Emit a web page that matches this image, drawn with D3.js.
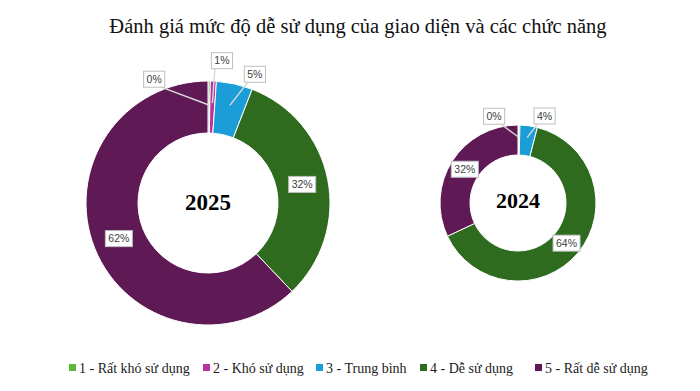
<!DOCTYPE html>
<html><head><meta charset="utf-8">
<script src="https://cdn.jsdelivr.net/npm/d3@7"></script>
<style>html,body{margin:0;padding:0;background:#fff;}svg{display:block;}</style>
</head><body>
<svg id="chart" width="700" height="391"></svg>
<script>
const categories = ["1 - Rất khó sử dụng", "2 - Khó sử dụng", "3 - Trung bình", "4 - Dễ sử dụng", "5 - Rất dễ sử dụng"];
const colors = ["#5cb83b", "#b9339f", "#1b9dd8", "#2f6b1f", "#5f1a55"];
const years = ["2025", "2024"];
const values2025 = [0.3, 0.8, 4.8, 32.0, 62.1];
const values2024 = [0.2, 0.2, 3.6, 64.0, 32.0];
const labels2025 = ["0%", "1%", "5%", "32%", "62%"];
const labels2024 = ["0%", "0%", "4%", "64%", "32%"];
const title = "Đánh giá mức độ dễ sử dụng của giao diện và các chức năng";

const svg = d3.select("#chart");
const color = d3.scaleOrdinal().domain(categories).range(colors);

svg.append("text").attr("x", 358).attr("y", 33).attr("text-anchor", "middle")
  .attr("font-family", "Liberation Serif, Times New Roman, serif").attr("font-size", 20.5)
  .attr("fill", "#111").text(title);

// layout (positions only, not data)
const layouts = [
  {cx: 208, cy: 203, ro: 122, ri: 70, yearSize: 23, yearDy: 7,
   ext: {0: {ang: -23.5, dist: 135, lineR: 98}, 1: {ang: 5.6, dist: 143, lineR: 100}, 2: {ang: 20, dist: 137, lineR: 100}}},
  {cx: 518, cy: 203, ro: 78, ri: 48, yearSize: 22, yearDy: 5,
   ext: {0: {ang: -15.4, dist: 90, lineR: 66}, 2: {ang: 17, dist: 91, lineR: 66}}}
];
const dataSets = [
  {year: years[0], values: values2025, labels: labels2025},
  {year: years[1], values: values2024, labels: labels2024}
];

const pie = d3.pie().sort(null).value(d => d.v);

dataSets.forEach((ds, k) => {
  const L = layouts[k];
  const g = svg.append("g").attr("transform", `translate(${L.cx},${L.cy})`);
  const items = categories.map((c, i) => ({c, v: ds.values[i], lab: ds.labels[i], i}));
  const arcs = pie(items);
  const arc = d3.arc().innerRadius(L.ri).outerRadius(L.ro);
  g.selectAll("path").data(arcs).join("path")
    .attr("d", arc).attr("fill", d => color(d.data.c))
    .attr("stroke", "#fff").attr("stroke-width", 1);

  g.append("text").attr("x", 0).attr("y", L.yearDy).attr("text-anchor", "middle")
    .attr("font-family", "Liberation Serif, Times New Roman, serif").attr("font-weight", "bold")
    .attr("font-size", L.yearSize).attr("fill", "#000").text(ds.year);

  const lg = g.append("g");
  arcs.forEach(a => {
    const i = a.data.i;
    const ext = L.ext[i];
    let x, y;
    if (!ext && a.data.v < 2) return;
    if (ext) {
      const ang = ext.ang * Math.PI / 180;
      x = ext.dist * Math.sin(ang); y = -ext.dist * Math.cos(ang);
    } else {
      const c = d3.arc().innerRadius(L.ri).outerRadius(L.ro).centroid(a);
      x = c[0]; y = c[1];
    }
    const t = lg.append("text").attr("x", x).attr("y", y + 3.8).attr("text-anchor", "middle")
      .attr("font-family", "Liberation Sans, Arial, sans-serif").attr("font-size", 10.5)
      .attr("fill", "#404040").text(a.data.lab);
    const w = t.node().getComputedTextLength() + 6;
    if (ext) {
      const mid = (a.startAngle + a.endAngle) / 2;
      const px = ext.lineR * Math.sin(mid), py = -ext.lineR * Math.cos(mid);
      const sx = x - Math.sign(x) * w / 3;
      lg.insert("line", () => t.node()).attr("x1", sx).attr("y1", y + 8).attr("x2", px).attr("y2", py)
        .attr("stroke", "#d9d9d9").attr("stroke-width", 1.4);
    }
    lg.insert("rect", () => t.node()).attr("x", x - w / 2).attr("y", y - 8).attr("width", w).attr("height", 16)
      .attr("fill", "#fff").attr("stroke", "#bfbfbf").attr("stroke-width", 1);
  });
});

// legend
const legendX = [69, 203, 316, 420, 535];
const lgd = svg.append("g");
categories.forEach((c, i) => {
  lgd.append("rect").attr("x", legendX[i]).attr("y", 364).attr("width", 7).attr("height", 7).attr("fill", color(c));
  lgd.append("text").attr("x", legendX[i] + 10).attr("y", 373)
    .attr("font-family", "Liberation Serif, Times New Roman, serif").attr("font-size", 14)
    .attr("fill", "#222").text(c);
});
</script>
</body></html>
